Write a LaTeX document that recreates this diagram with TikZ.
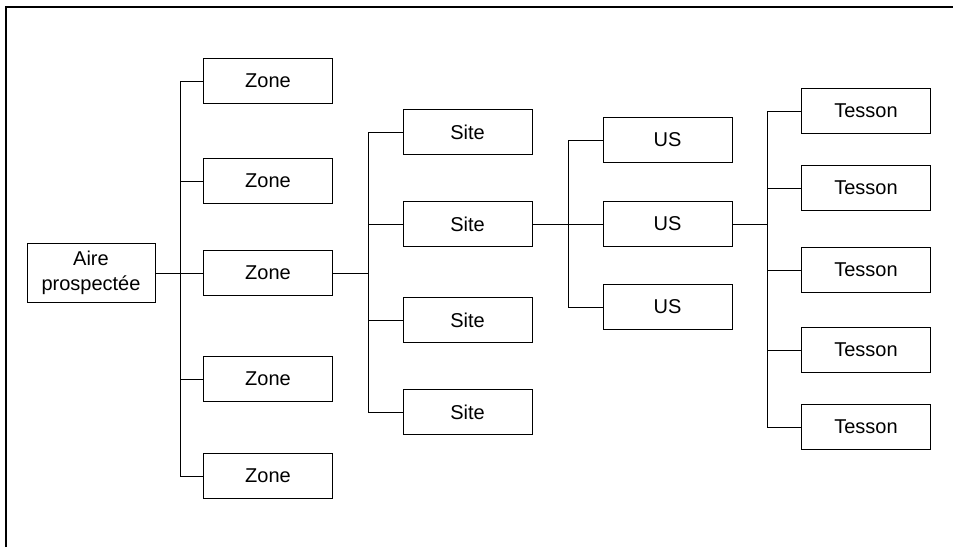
\documentclass[tikz,border=0pt]{standalone}
\usepackage{fontspec}
\setmainfont{Liberation Sans}

\tikzset{
  boite/.style = {draw, line width=1pt, minimum width=129pt, minimum height=45pt,
                  inner sep=0pt, align=center, font=\fontsize{20}{24.5}\selectfont},
  lien/.style  = {line width=1pt}
}

\begin{document}
\begin{tikzpicture}[x=1pt, y=-1pt]
  \useasboundingbox (0,0) rectangle (953,547);
  \draw[line width=1.6pt] (6,547) -- (6,7) -- (953,7);

  % les boites
  \node[boite, minimum width=128pt, minimum height=59pt] (aire) at (91,273) {Aire\\prospectée};
  \foreach \y [count=\i] in {81,181,273,379,476}
    \node[boite] (zone\i) at (268,\y) {Zone};
  \foreach \y [count=\i] in {132,224,320,412}
    \node[boite] (site\i) at (467.5,\y) {Site};
  \foreach \y [count=\i] in {140,224,307}
    \node[boite] (us\i) at (667.5,\y) {US};
  \foreach \y [count=\i] in {111,188,270,350,427}
    \node[boite] (tesson\i) at (866,\y) {Tesson};

  % les troncs
  \coordinate (tz) at (180,0);
  \coordinate (ts) at (368,0);
  \coordinate (tu) at (568,0);
  \coordinate (tt) at (767,0);

  \draw[lien] (aire) -- (zone3);
  \foreach \i in {1,...,5}
    \draw[lien] (zone\i.west) -- (zone\i.west -| tz);
  \draw[lien] (zone1.west -| tz) -- (zone5.west -| tz);

  \draw[lien] (zone3.east) -- (zone3.east -| ts);
  \foreach \i in {1,...,4}
    \draw[lien] (site\i.west) -- (site\i.west -| ts);
  \draw[lien] (site1.west -| ts) -- (site4.west -| ts);

  \draw[lien] (site2) -- (us2);
  \foreach \i in {1,...,3}
    \draw[lien] (us\i.west) -- (us\i.west -| tu);
  \draw[lien] (us1.west -| tu) -- (us3.west -| tu);

  \draw[lien] (us2.east) -- (us2.east -| tt);
  \foreach \i in {1,...,5}
    \draw[lien] (tesson\i.west) -- (tesson\i.west -| tt);
  \draw[lien] (tesson1.west -| tt) -- (tesson5.west -| tt);
\end{tikzpicture}
\end{document}
